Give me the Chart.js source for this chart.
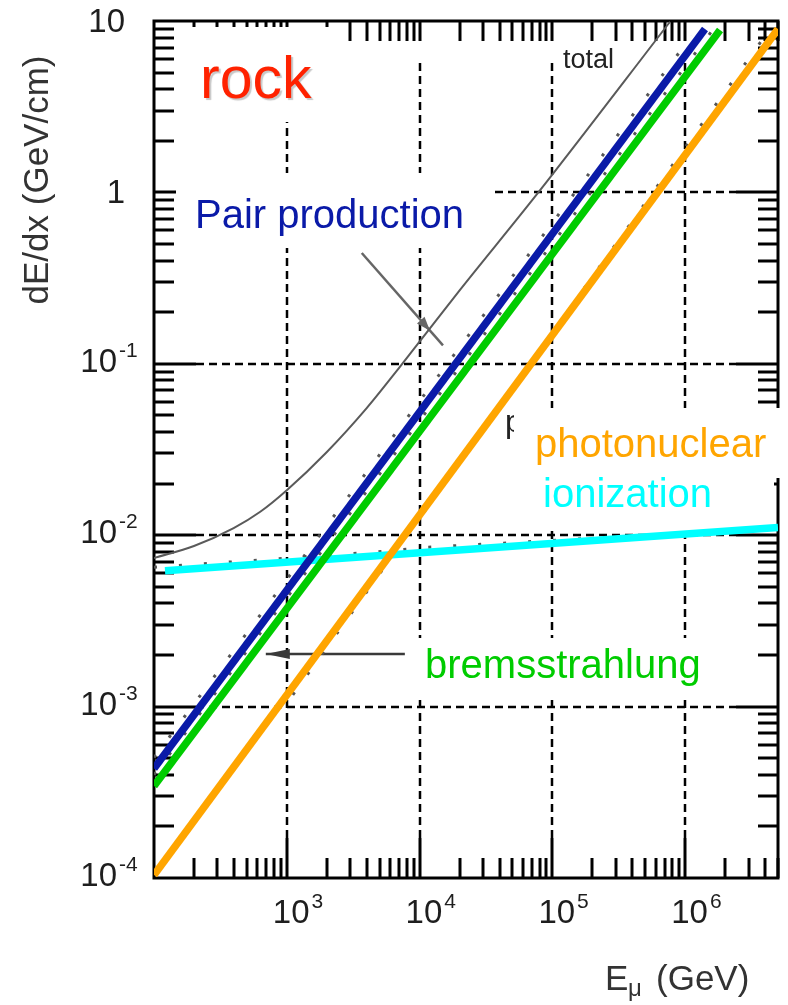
<!DOCTYPE html>
<html>
<head>
<meta charset="utf-8">
<title>Muon energy loss in rock</title>
<script src="https://cdn.jsdelivr.net/npm/chart.js@4.4.1/dist/chart.umd.min.js"></script>
<style>
    html, body { margin: 0; padding: 0; background: #fff; }
    #wrap { position: relative; width: 788px; height: 1005px; }
</style>
</head>
<body>
<div id="wrap"><canvas id="chart"></canvas></div>
<script>
"use strict";

// values: muon energy (GeV) and dE/dx (GeV/cm)
var totalEnergy = [100, 200, 398, 631, 1000, 1995, 3981, 7080, 19950, 77600, 769000];
var totalLoss = [0.00736, 0.00865, 0.0110, 0.0137, 0.0183, 0.0305, 0.055, 0.0957, 0.267, 0.989, 9.9];

var pairEnergy = [100, 1410000];
var pairLoss = [0.000435, 8.97];

var bremsEnergy = [100, 1830000];
var bremsLoss = [0.000344, 8.85];

var photoEnergy = [100, 5000000];
var photoLoss = [0.000104, 8.97];

var ionEnergy = [121, 5000000];
var ionLoss = [0.00621, 0.0111];

// original dotted curves, mostly hidden under the coloured overlays
var origIonEnergy = [100, 4850, 11350, 5000000];
var origIonLoss = [0.0065, 0.0080, 0.0085, 0.0110];

var origPairEnergy = [100, 1120000];
var origPairLoss = [0.000504, 8.2];

var origBremsEnergy = [100, 1580000];
var origBremsLoss = [0.00040, 8.7];

var origPhotoEnergy = [1110, 4140000];
var origPhotoLoss = [0.00117, 8.51];

// arrows, as [energy, dE/dx] tail then tip
var pairArrow = [[3670, 0.443], [15000, 0.128]];
var bremsArrow = [[7745, 0.00203], [695, 0.00203]];

// axes
var xMajor = [1000, 10000, 100000, 1000000];
var xTickSup = ["3", "4", "5", "6"];
var yLabelValues = [0.0001, 0.001, 0.01, 0.1, 1, 10];
var yTickBase = ["10", "10", "10", "10", "1", "10"];
var yTickSup = ["-4", "-3", "-2", "-1", "", ""];
var yMajor = [0.001, 0.01, 0.1, 1];

var FONT = "'Liberation Sans', Arial, Helvetica, sans-serif";

function points(xs, ys) {
    return xs.map(function (x, i) {
        return { x: x, y: ys[i] };
    });
}

function lineSet(xs, ys, color, width, order) {
    return {
        data: points(xs, ys),
        borderColor: color,
        borderWidth: width,
        borderCapStyle: "butt",
        pointRadius: 0,
        fill: false,
        tension: 0,
        order: order
    };
}

function dottedSet(xs, ys) {
    var set = lineSet(xs, ys, "#555", 3, 20);
    set.borderDash = [3, 22];
    return set;
}

function strokeLine(ctx, x1, y1, x2, y2) {
    ctx.beginPath();
    ctx.moveTo(x1, y1);
    ctx.lineTo(x2, y2);
    ctx.stroke();
}

function drawArrow(ctx, xs, ys, arrow, color, headLen, headHalf, headAt) {
    var x1 = xs.getPixelForValue(arrow[0][0]);
    var y1 = ys.getPixelForValue(arrow[0][1]);
    var x2 = xs.getPixelForValue(arrow[1][0]);
    var y2 = ys.getPixelForValue(arrow[1][1]);
    var ang = Math.atan2(y2 - y1, x2 - x1);
    // arrow head tip sits a fraction of the way along the shaft
    var tx = x1 + (x2 - x1) * headAt;
    var ty = y1 + (y2 - y1) * headAt;
    var bx = tx - headLen * Math.cos(ang);
    var by = ty - headLen * Math.sin(ang);

    ctx.strokeStyle = color;
    ctx.fillStyle = color;
    ctx.lineWidth = 2.5;
    strokeLine(ctx, x1, y1, x2, y2);
    ctx.beginPath();
    ctx.moveTo(tx, ty);
    ctx.lineTo(bx + headHalf * Math.sin(ang), by - headHalf * Math.cos(ang));
    ctx.lineTo(bx - headHalf * Math.sin(ang), by + headHalf * Math.cos(ang));
    ctx.closePath();
    ctx.fill();
}

var framePlugin = {
    id: "frame",
    beforeDatasetsDraw: function (chart) {
        var ctx = chart.ctx;
        var xs = chart.scales.x;
        var ys = chart.scales.y;
        var a = chart.chartArea;
        var d, m, v, p;

        ctx.save();
        ctx.strokeStyle = "#000";

        // dashed grid at the decades
        ctx.lineWidth = 2.5;
        ctx.setLineDash([8, 5]);
        xMajor.forEach(function (val) {
            var px = Math.round(xs.getPixelForValue(val));
            strokeLine(ctx, px, a.bottom - 40, px, a.top + 41);
        });
        yMajor.forEach(function (val) {
            var py = Math.round(ys.getPixelForValue(val));
            strokeLine(ctx, a.left + 42, py, a.right - 42, py);
        });
        ctx.setLineDash([]);

        // inward ticks on all four sides
        ctx.lineWidth = 3;
        for (d = 2; d <= 6; d++) {
            for (m = 2; m <= 9; m++) {
                v = m * Math.pow(10, d);
                if (v > xs.max) {
                    continue;
                }
                p = Math.round(xs.getPixelForValue(v));
                strokeLine(ctx, p, a.bottom, p, a.bottom - 20);
                strokeLine(ctx, p, a.top, p, a.top + 20);
            }
        }
        xMajor.forEach(function (val) {
            var px = Math.round(xs.getPixelForValue(val));
            strokeLine(ctx, px, a.bottom, px, a.bottom - 40);
            strokeLine(ctx, px, a.top, px, a.top + 20);
        });
        for (d = -4; d <= 0; d++) {
            for (m = 2; m <= 9; m++) {
                v = m * Math.pow(10, d);
                p = Math.round(ys.getPixelForValue(v));
                strokeLine(ctx, a.left, p, a.left + 20, p);
                strokeLine(ctx, a.right, p, a.right - 20, p);
            }
        }
        yMajor.forEach(function (val) {
            var py = Math.round(ys.getPixelForValue(val));
            strokeLine(ctx, a.left, py, a.left + 42, py);
            strokeLine(ctx, a.right, py, a.right - 42, py);
        });

        ctx.lineWidth = 3;
        ctx.strokeRect(a.left, a.top, a.right - a.left, a.bottom - a.top);

        // white boxes behind the slide labels
        ctx.fillStyle = "#fff";
        ctx.fillRect(176, 27, 154, 95);
        ctx.fillRect(176, 173, 319, 75);
        ctx.fillRect(521, 408, 267, 70);
        ctx.fillRect(531, 478, 243, 52);
        ctx.fillRect(405, 638, 315, 59);

        drawArrow(ctx, xs, ys, pairArrow, "#666", 14, 5, 0.84);
        drawArrow(ctx, xs, ys, bremsArrow, "#3a3a3a", 24, 5, 1);

        ctx.restore();
    }
};

var labelPlugin = {
    id: "labels",
    afterDraw: function (chart) {
        var ctx = chart.ctx;
        var xs = chart.scales.x;
        var ys = chart.scales.y;

        ctx.save();
        ctx.textAlign = "left";
        ctx.textBaseline = "alphabetic";

        // y tick labels
        ctx.fillStyle = "#1e1e1e";
        yLabelValues.forEach(function (val, i) {
            var py = ys.getPixelForValue(val);
            ctx.font = "33px " + FONT;
            if (yTickSup[i]) {
                ctx.textAlign = "right";
                ctx.fillText(yTickBase[i], 117, py + 8);
                ctx.textAlign = "left";
                ctx.font = "21px " + FONT;
                ctx.fillText(yTickSup[i], 119, py - 7);
            } else {
                ctx.textAlign = "right";
                ctx.fillText(yTickBase[i], 125, py + 11);
            }
        });

        // x tick labels
        ctx.textAlign = "left";
        xMajor.forEach(function (val, i) {
            var px = xs.getPixelForValue(val);
            var w;
            ctx.font = "33px " + FONT;
            w = ctx.measureText("10").width;
            ctx.fillText("10", px - 14, 923);
            ctx.font = "21px " + FONT;
            ctx.fillText(xTickSup[i], px - 14 + w + 2, 908);
        });

        // axis titles
        ctx.fillStyle = "#333";
        ctx.font = "35px " + FONT;
        ctx.fillText("E", 605, 990);
        ctx.fillText("(GeV)", 656, 990);
        ctx.font = "24px " + FONT;
        ctx.fillText("\u03bc", 628, 996);

        ctx.save();
        ctx.translate(48, 180);
        ctx.rotate(-Math.PI / 2);
        ctx.textAlign = "center";
        ctx.font = "35px " + FONT;
        ctx.fillText("dE/dx (GeV/cm)", 0, 0);
        ctx.restore();

        ctx.fillStyle = "#222";
        ctx.font = "27px " + FONT;
        ctx.fillText("total", 563, 68);

        // leftover of the original figure's label, cut by the white box
        ctx.save();
        ctx.beginPath();
        ctx.rect(506, 410, 8, 30);
        ctx.clip();
        ctx.font = "32px " + FONT;
        ctx.fillText("p", 505, 432);
        ctx.restore();

        // slide labels
        ctx.save();
        ctx.shadowColor = "rgba(0,0,0,0.22)";
        ctx.shadowOffsetX = 2;
        ctx.shadowOffsetY = 2;
        ctx.shadowBlur = 1;
        ctx.fillStyle = "#ff2200";
        ctx.font = "59px " + FONT;
        ctx.fillText("rock", 200, 98);
        ctx.restore();

        ctx.font = "40px " + FONT;
        ctx.fillStyle = "#0a1aa8";
        ctx.fillText("Pair production", 195, 228);
        ctx.fillStyle = "#ffa500";
        ctx.fillText("photonuclear", 535, 457);
        ctx.fillStyle = "#00ffff";
        ctx.fillText("ionization", 543, 507);
        ctx.fillStyle = "#00cc00";
        ctx.fillText("bremsstrahlung", 425, 678);

        ctx.restore();
    }
};

var datasets = [
    lineSet(pairEnergy, pairLoss, "#0a1aa8", 7.5, 1),
    lineSet(bremsEnergy, bremsLoss, "#00cc00", 7.5, 2),
    lineSet(photoEnergy, photoLoss, "#ffa500", 7.5, 3),
    lineSet(ionEnergy, ionLoss, "#00ffff", 7.5, 4),
    dottedSet(origIonEnergy, origIonLoss),
    dottedSet(origPairEnergy, origPairLoss),
    dottedSet(origBremsEnergy, origBremsLoss),
    dottedSet(origPhotoEnergy, origPhotoLoss)
];

var totalSet = lineSet(totalEnergy, totalLoss, "#5a5a5a", 2, 10);
totalSet.cubicInterpolationMode = "monotone";
datasets.push(totalSet);

new Chart(document.getElementById("chart").getContext("2d"), {
    type: "line",
    data: { datasets: datasets },
    options: {
        responsive: true,
        maintainAspectRatio: false,
        animation: false,
        events: [],
        layout: {
            padding: { left: 154, top: 21, right: 10, bottom: 127 }
        },
        plugins: {
            legend: { display: false },
            tooltip: { enabled: false }
        },
        scales: {
            x: { type: "logarithmic", min: 100, max: 5000000, display: false },
            y: { type: "logarithmic", min: 0.0001, max: 10, display: false }
        }
    },
    plugins: [framePlugin, labelPlugin]
});
</script>
</body>
</html>
